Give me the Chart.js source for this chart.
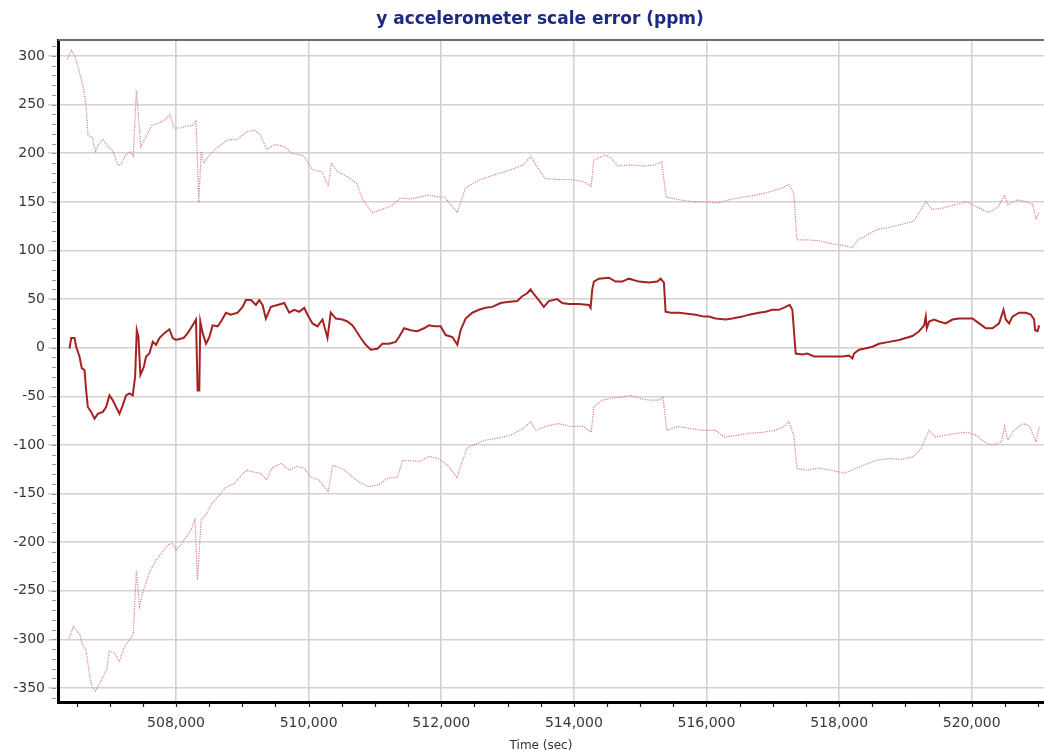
<!DOCTYPE html>
<html>
<head>
<meta charset="utf-8">
<script src="https://cdn.jsdelivr.net/npm/chart.js@4.4.1/dist/chart.umd.min.js"></script>
<style>
  html, body { margin: 0; padding: 0; background: #ffffff; }
  #wrap { width: 1044px; height: 754px; position: relative; }
</style>
</head>
<body>
<div id="wrap"><canvas id="c" width="1044" height="754"></canvas></div>
<script>
const chartTitle = 'y accelerometer scale error (ppm)';
const xAxisTitle = 'Time (sec)';
const xTickValues = [508000, 510000, 512000, 514000, 516000, 518000, 520000];
const yTickValues = [-350, -300, -250, -200, -150, -100, -50, 0, 50, 100, 150, 200, 250, 300];

const meanTime = [
  506394,506419,506469,506494,506544,506579,506620,506645,506670,506720,
  506770,506820,506896,506946,506996,507046,507096,507147,507197,507247,
  507297,507347,507383,507408,507433,507463,507513,507548,507598,507649,
  507699,507749,507824,507900,507950,508000,508050,508115,508176,508251,
  508301,508326,508351,508366,508402,508452,508502,508552,508628,508678,
  508753,508828,508929,509004,509054,509130,509205,509255,509305,509355,
  509431,509531,509632,509707,509782,509857,509933,509983,510058,510134,
  510209,510284,510334,510410,510510,510585,510661,510711,510786,510861,
  510937,511037,511112,511213,511313,511363,511439,511539,511640,511740,
  511815,511891,511991,512066,512167,512242,512292,512367,512468,512568,
  512669,512769,512895,512995,513146,513221,513296,513346,513397,513472,
  513547,513622,513748,513824,513925,514075,514226,514252,514277,514302,
  514377,514528,514629,514729,514830,514981,515132,515258,515308,515358,
  515383,515459,515585,515710,515836,515962,516037,516138,516289,516389,
  516540,516641,516792,516892,516993,517093,517194,517254,517295,517345,
  517446,517521,517622,517747,517898,518049,518150,518200,518225,518301,
  518376,518502,518602,518753,518904,519005,519105,519206,519282,519307,
  519322,519357,519432,519508,519608,519709,519810,519910,520011,520111,
  520212,520313,520413,520479,520514,520564,520614,520715,520815,520891,
  520941,520956,520992,521017
];
const meanPpm = [
  -1,10,10,1,-9,-21,-23,-44,-61,-66,
  -73,-68,-66,-61,-49,-54,-61,-68,-59,-49,
  -47,-49,-30,18,11,-28,-20,-9,-6,6,
  3,10,15,19,10,8,9,10,15,23,
  29,-44,-44,27,15,4,11,23,22,27,
  36,34,36,42,49,49,44,49,44,30,
  42,44,46,36,39,37,41,34,25,22,
  29,10,36,30,29,27,23,18,10,3,
  -2,-1,4,4,6,11,20,18,17,20,
  23,22,22,13,11,3,18,30,36,39,
  41,42,46,47,48,53,56,60,55,49,
  42,48,50,46,45,45,44,41,60,68,
  71,72,68,68,71,68,67,68,71,67,
  37,36,36,35,34,32,32,30,29,30,
  32,34,36,37,39,39,42,44,39,-6,
  -7,-6,-9,-9,-9,-9,-8,-11,-6,-2,
  -1,1,4,6,8,10,12,17,23,32,
  20,27,29,27,25,29,30,30,30,25,
  20,20,25,39,29,25,32,36,36,34,
  29,18,17,23
];

const upperTime = [
  506359,506425,506482,506548,506596,506643,506672,506738,506786,506833,
  506899,506975,507051,507118,507165,507241,507307,507355,507402,507469,
  507545,507639,507734,507829,507905,507972,508066,508161,508256,508304,
  508342,508380,508417,508493,508588,508683,508778,508920,509063,509177,
  509271,509366,509490,509632,509746,509917,510059,510201,510296,510343,
  510438,510581,510723,510818,510960,511103,511245,511387,511530,511672,
  511814,511957,512051,512146,512241,512364,512526,512715,512905,513048,
  513237,513351,513427,513569,513759,513949,514139,514262,514300,514471,
  514566,514661,514850,515040,515230,515325,515391,515609,515799,515989,
  516179,516321,516558,516748,516938,517127,517241,517317,517365,517507,
  517697,517886,518076,518200,518266,518551,518836,519121,519262,519310,
  519405,519594,519737,519927,520069,520259,520401,520496,520543,520686,
  520828,520923,520970,521020
];
const upperPpm = [
  297,306,299,282,269,250,219,216,202,209,
  214,207,202,188,188,198,202,197,265,207,
  217,229,231,234,240,226,226,228,229,234,
  149,202,190,197,204,209,214,214,222,224,
  219,204,209,207,200,198,183,181,166,190,
  181,176,169,152,139,142,146,154,153,155,
  157,155,155,147,139,164,171,176,180,183,
  188,197,188,174,173,173,171,166,193,198,
  195,187,188,187,188,191,155,152,150,150,
  149,152,155,157,160,164,168,159,111,111,
  110,107,105,103,110,121,125,130,145,150,
  142,144,147,150,145,139,145,157,147,152,
  150,147,132,139
];

const lowerTime = [
  506387,506453,506548,506596,506643,506691,506738,506786,506880,506956,
  506994,507070,507146,507212,507307,507355,507402,507450,507497,507592,
  507687,507782,507877,507943,508000,508066,508161,508228,508285,508323,
  508380,508446,508541,508636,508759,508873,508987,509063,509177,509271,
  509366,509442,509584,509708,509822,509936,510030,510154,510296,510363,
  510486,510600,510752,510913,511055,511197,511340,511416,511530,511672,
  511814,511957,512099,512241,512289,512384,512478,512668,512858,513048,
  513237,513351,513427,513569,513759,513949,514139,514262,514300,514423,
  514566,514708,514850,514993,515135,515277,515344,515401,515562,515752,
  515941,516131,516273,516463,516653,516843,517033,517175,517241,517317,
  517365,517507,517697,517886,518076,518190,518361,518551,518740,518930,
  519121,519234,519310,519357,519452,519594,519784,519927,520069,520191,
  520306,520448,520496,520543,520638,520780,520875,520970,521020
];
const lowerPpm = [
  -299,-287,-295,-307,-311,-335,-350,-353,-341,-331,
  -312,-314,-323,-309,-299,-295,-229,-266,-252,-232,
  -220,-211,-203,-201,-208,-203,-194,-187,-177,-239,
  -177,-172,-160,-153,-143,-140,-131,-126,-128,-129,
  -136,-124,-119,-126,-122,-124,-133,-136,-148,-121,
  -124,-129,-138,-143,-141,-134,-133,-116,-116,-117,
  -112,-114,-121,-134,-122,-104,-100,-95,-93,-90,
  -83,-76,-85,-81,-78,-81,-81,-87,-61,-54,
  -52,-51,-49,-52,-54,-54,-51,-85,-81,-83,
  -85,-85,-92,-90,-88,-87,-85,-81,-76,-90,
  -124,-126,-124,-126,-129,-126,-121,-116,-114,-115,
  -112,-104,-92,-85,-92,-90,-88,-87,-90,-97,
  -100,-97,-81,-95,-85,-78,-81,-97,-81
];

function toPoints(ts, vs) {
  const n = Math.min(ts.length, vs.length);
  const out = [];
  for (let i = 0; i < n; i++) out.push({ x: ts[i], y: vs[i] });
  return out;
}

const decor = {
  id: 'decor',
  afterDraw(chart) {
    const { ctx, chartArea: a, scales: { x, y } } = chart;
    ctx.save();
    ctx.strokeStyle = '#6e6e6e';
    ctx.lineWidth = 2;
    ctx.beginPath();
    ctx.moveTo(a.left, a.top);
    ctx.lineTo(a.right, a.top);
    ctx.stroke();
    ctx.strokeStyle = '#222';
    ctx.lineWidth = 1.2;
    for (let v = Math.ceil(x.min / 500) * 500; v <= x.max; v += 500) {
      const px = Math.round(x.getPixelForValue(v)) + 0.5;
      ctx.beginPath();
      ctx.moveTo(px, a.bottom + 1);
      ctx.lineTo(px, a.bottom + 5);
      ctx.stroke();
    }
    ctx.strokeStyle = '#999';
    ctx.lineWidth = 1;
    for (let v = Math.ceil(y.min / 10) * 10; v <= y.max; v += 10) {
      const py = Math.round(y.getPixelForValue(v)) + 0.5;
      ctx.beginPath();
      ctx.moveTo(a.left - 6, py);
      ctx.lineTo(a.left - 2, py);
      ctx.stroke();
    }
    ctx.textAlign = 'center';
    ctx.textBaseline = 'alphabetic';
    ctx.fillStyle = '#1c2a84';
    ctx.font = 'bold 17px "DejaVu Sans", Verdana, sans-serif';
    ctx.fillText(chartTitle, 540, 24);
    ctx.fillStyle = '#333333';
    ctx.font = '12px "DejaVu Sans", Verdana, sans-serif';
    ctx.fillText(xAxisTitle, 541, 749);
    ctx.restore();
  }
};

new Chart(document.getElementById('c'), {
  type: 'line',
  data: {
    datasets: [
      {
        label: 'scale error',
        data: toPoints(meanTime, meanPpm),
        borderColor: '#a52222',
        borderWidth: 2,
        pointRadius: 0,
        tension: 0,
        fill: false
      },
      {
        label: 'upper bound',
        data: toPoints(upperTime, upperPpm),
        borderColor: '#dc8080',
        borderWidth: 1.2,
        borderDash: [1.2, 1.2],
        pointRadius: 0,
        tension: 0,
        fill: false
      },
      {
        label: 'lower bound',
        data: toPoints(lowerTime, lowerPpm),
        borderColor: '#dc8080',
        borderWidth: 1.2,
        borderDash: [1.2, 1.2],
        pointRadius: 0,
        tension: 0,
        fill: false
      }
    ]
  },
  options: {
    responsive: false,
    animation: false,
    devicePixelRatio: 1,
    layout: { padding: { top: 40, left: 0, right: 0, bottom: 0 } },
    plugins: {
      legend: { display: false },
      title: { display: false },
      tooltip: { enabled: false }
    },
    scales: {
      x: {
        type: 'linear',
        min: 506220,
        max: 521090,
        afterBuildTicks: (s) => { s.ticks = xTickValues.map(v => ({ value: v })); },
        afterFit: (s) => { s.height = 52; },
        grid: { color: '#d2d2d2', lineWidth: 1.6, drawTicks: false },
        border: { display: true, color: '#000000', width: 3 },
        ticks: {
          padding: 13,
          maxRotation: 0,
          autoSkip: false,
          color: '#383838',
          font: { family: '"DejaVu Sans", Verdana, sans-serif', size: 14 },
          callback: (v) => Number(v).toLocaleString('en-US')
        }
      },
      y: {
        type: 'linear',
        min: -364.4,
        max: 316.5,
        afterBuildTicks: (s) => { s.ticks = yTickValues.map(v => ({ value: v })); },
        afterFit: (s) => { s.width = 58; },
        grid: { color: '#d2d2d2', lineWidth: 1.6, drawTicks: true, tickLength: 10 },
        border: { display: true, color: '#000000', width: 3 },
        ticks: {
          padding: 3,
          autoSkip: false,
          color: '#383838',
          font: { family: '"DejaVu Sans", Verdana, sans-serif', size: 14 }
        }
      }
    }
  },
  plugins: [decor]
});
</script>
</body>
</html>
